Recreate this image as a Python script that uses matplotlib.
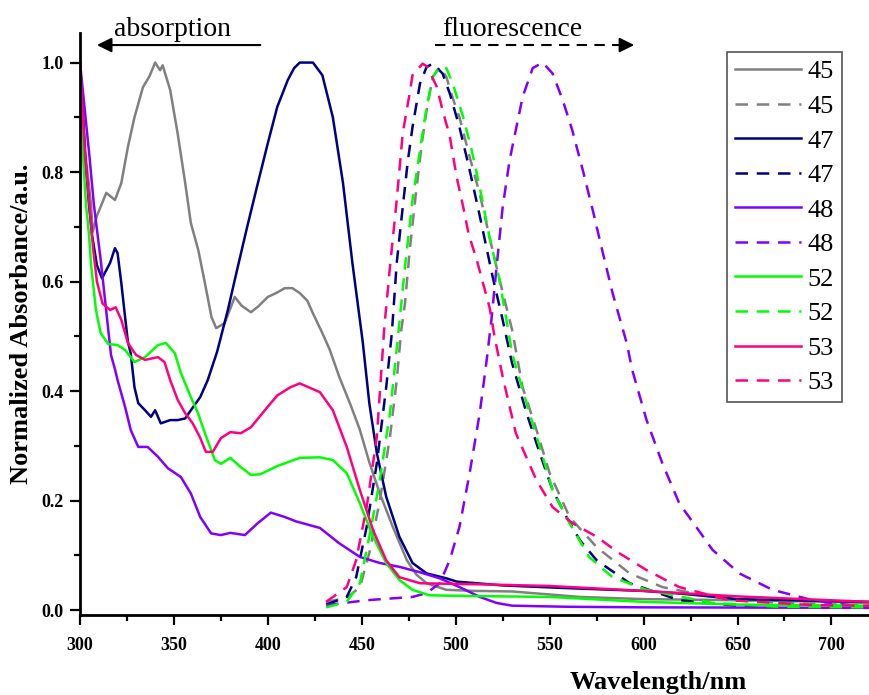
import numpy as np
import matplotlib
matplotlib.use("Agg")
import matplotlib.pyplot as plt
from matplotlib.ticker import MultipleLocator

plt.rcParams['font.family'] = ['Liberation Serif', 'DejaVu Serif']

# —— absorption (solid) —— #
gray_abs_x = [300, 303, 305.9, 306.7, 309, 314, 318.6, 322, 325.5, 329, 333.5, 337, 340, 342.6, 344, 348, 352, 356,
              359, 363, 366.5, 370, 372.5, 377, 382.4, 386, 391, 395, 400, 405, 409, 413, 417, 421, 424, 429, 433,
              438, 444, 449, 454, 459.6, 466.5, 474, 479, 484.5, 495, 510, 530, 566, 600, 650, 700, 720]
gray_abs_y = [1.0, 0.83, 0.74, 0.69, 0.72, 0.762, 0.749, 0.78, 0.846, 0.90, 0.955, 0.975, 1.0, 0.986, 0.995, 0.95,
              0.87, 0.78, 0.707, 0.657, 0.597, 0.535, 0.515, 0.524, 0.572, 0.556, 0.544, 0.555, 0.572, 0.58, 0.588,
              0.588, 0.579, 0.565, 0.542, 0.506, 0.475, 0.426, 0.375, 0.329, 0.27, 0.213, 0.152, 0.091, 0.065,
              0.049, 0.037, 0.035, 0.034, 0.024, 0.02, 0.018, 0.015, 0.013]

navy_abs_x = [300, 302.7, 304.8, 306.4, 309, 311.7, 316, 318.6, 320, 322, 324, 325.5, 327, 329, 331, 334.6, 337.8,
              340, 343, 348, 352, 356, 359, 364, 368, 373, 378.7, 384, 389, 394.7, 400, 405, 410.6, 414, 417, 424,
              429, 434.6, 440, 445, 450.5, 454, 458, 463, 470, 477, 484.5, 495, 500.5, 525, 560, 600, 620, 650, 720]
navy_abs_y = [1.0, 0.83, 0.74, 0.685, 0.63, 0.606, 0.634, 0.661, 0.652, 0.597, 0.535, 0.49, 0.469, 0.407, 0.378,
              0.365, 0.353, 0.365, 0.341, 0.347, 0.347, 0.35, 0.365, 0.389, 0.42, 0.472, 0.548, 0.627, 0.70, 0.78,
              0.853, 0.919, 0.968, 0.99, 1.0, 1.0, 0.977, 0.90, 0.78, 0.634, 0.49, 0.378, 0.287, 0.207, 0.134,
              0.086, 0.067, 0.058, 0.052, 0.045, 0.04, 0.035, 0.03, 0.02, 0.015]

violet_abs_x = [300, 305, 307.4, 311, 316.5, 318.6, 320, 324, 327, 331, 336, 341.5, 346.8, 353.7, 359, 364, 369.8,
                375, 380, 387.8, 394.7, 401.6, 409, 415, 427.7, 438, 449, 459.6, 470, 481, 491.5, 502, 512.8,
                521.8, 530, 560, 600, 720]
violet_abs_y = [1.0, 0.83, 0.74, 0.64, 0.466, 0.44, 0.42, 0.371, 0.329, 0.298, 0.298, 0.28, 0.259, 0.243, 0.213,
                0.17, 0.14, 0.137, 0.141, 0.137, 0.159, 0.178, 0.17, 0.162, 0.15, 0.122, 0.097, 0.086, 0.079, 0.069,
                0.058, 0.042, 0.024, 0.013, 0.008, 0.006, 0.005, 0.004]

green_abs_x = [300, 301.6, 303.2, 304.8, 306, 308.5, 311, 315, 320, 324, 329, 334.6, 341.5, 345.7, 350.5, 353.7, 359,
               362.8, 366.5, 371.8, 375, 380, 385.6, 391, 396, 405, 417, 427.7, 434.6, 442, 449, 456, 463, 470, 477,
               486, 500, 550, 600, 650, 720]
green_abs_y = [1.0, 0.83, 0.74, 0.685, 0.627, 0.548, 0.506, 0.486, 0.484, 0.475, 0.453, 0.462, 0.484, 0.488, 0.469,
               0.433, 0.389, 0.36, 0.323, 0.274, 0.267, 0.278, 0.261, 0.247, 0.248, 0.263, 0.278, 0.279, 0.274, 0.25,
               0.195, 0.134, 0.086, 0.055, 0.037, 0.027, 0.026, 0.024, 0.015, 0.01, 0.008]

pink_abs_x = [300, 302.7, 305, 307, 309, 312, 316, 319, 322, 325.5, 329.8, 334.6, 341.5, 345, 348, 352, 355.9, 360,
              363.8, 367, 370.7, 375, 380, 385.6, 391, 398.4, 405, 412, 417, 427.7, 434.6, 442, 449, 456, 463, 470,
              481, 513, 550, 600, 650, 720]
pink_abs_y = [1.0, 0.83, 0.74, 0.66, 0.6, 0.56, 0.548, 0.553, 0.53, 0.488, 0.466, 0.457, 0.462, 0.453, 0.42, 0.384,
              0.36, 0.341, 0.316, 0.289, 0.289, 0.314, 0.325, 0.323, 0.334, 0.365, 0.392, 0.407, 0.414, 0.398, 0.365,
              0.298, 0.219, 0.146, 0.091, 0.06, 0.049, 0.047, 0.044, 0.035, 0.025, 0.015]

# —— fluorescence (dashed) —— #
gray_fl_x = [431, 442, 449, 454, 459.6, 465, 468.6, 471, 473, 475.5, 479, 482, 484.5, 487.8, 491.5, 495, 498.4, 502,
             507.4, 512.8, 518, 523, 530, 535.6, 543, 550, 560.6, 575, 592.6, 610, 636.7, 672, 716, 720]
gray_fl_y = [0.015, 0.022, 0.042, 0.104, 0.2, 0.316, 0.42, 0.511, 0.56, 0.657, 0.767, 0.853, 0.913, 0.974, 0.992,
             0.974, 0.935, 0.90, 0.828, 0.76, 0.681, 0.608, 0.512, 0.407, 0.329, 0.25, 0.17, 0.115, 0.067, 0.042,
             0.024, 0.013, 0.009, 0.009]

navy_fl_x = [431, 442, 447, 452.6, 458, 463, 466, 468.6, 471.8, 474.5, 477, 481, 484.5, 487.8, 493, 496.8, 502, 507,
             512.8, 519.7, 525, 530, 537.7, 544.7, 551.6, 559, 566, 575, 592.6, 619, 655, 720]
navy_fl_y = [0.01, 0.024, 0.06, 0.152, 0.268, 0.407, 0.506, 0.634, 0.736, 0.82, 0.882, 0.962, 0.992, 0.998, 0.98,
             0.944, 0.882, 0.81, 0.72, 0.608, 0.53, 0.451, 0.36, 0.287, 0.219, 0.17, 0.128, 0.091, 0.049, 0.018,
             0.006, 0.005]

violet_fl_x = [431, 452.6, 477, 484.5, 491.5, 496.8, 502, 507.4, 512.8, 516.5, 519, 521.7, 525, 528.7, 532, 535.6,
               541, 546.3, 551.6, 557, 562, 567.6, 572.9, 578, 583.5, 591, 594, 601.6, 610, 619, 628, 636.7, 651,
               668.6, 690, 716, 720]
violet_fl_y = [0.009, 0.018, 0.024, 0.031, 0.049, 0.091, 0.152, 0.25, 0.36, 0.457, 0.53, 0.625, 0.736, 0.822, 0.877,
               0.937, 0.99, 1.0, 0.98, 0.931, 0.877, 0.804, 0.731, 0.657, 0.579, 0.488, 0.438, 0.347, 0.268, 0.195,
               0.152, 0.11, 0.067, 0.037, 0.018, 0.006, 0.006]

green_fl_x = [431, 442, 449, 454, 459.6, 465, 469, 473, 477, 481, 484.5, 487.8, 491.5, 495, 498.4, 504, 508.5, 512.8,
              518, 523, 527, 530, 537.7, 544.7, 551.6, 560.6, 571, 583.5, 601.6, 636.7, 672, 720]
green_fl_y = [0.005, 0.015, 0.049, 0.134, 0.237, 0.36, 0.49, 0.627, 0.749, 0.84, 0.919, 0.974, 0.992, 0.99, 0.962,
              0.90, 0.84, 0.772, 0.681, 0.608, 0.53, 0.469, 0.378, 0.298, 0.219, 0.159, 0.097, 0.06, 0.037, 0.013,
              0.006, 0.005]

pink_fl_x = [431, 442, 447, 452.6, 458, 462, 465, 468.6, 471.8, 475.5, 477, 482.4, 485, 490, 493, 496.8, 500.5, 504,
             507, 511, 518, 520.7, 525, 532, 543, 551.6, 562, 575, 587, 601.6, 619, 645.7, 690, 720]
pink_fl_y = [0.015, 0.042, 0.091, 0.188, 0.316, 0.517, 0.627, 0.749, 0.871, 0.944, 0.977, 0.998, 0.992, 0.955, 0.913,
             0.866, 0.791, 0.736, 0.685, 0.642, 0.553, 0.499, 0.426, 0.323, 0.237, 0.188, 0.159, 0.134, 0.104, 0.073,
             0.042, 0.018, 0.009, 0.008]

labels = ["45", "47", "48", "52", "53"]
colors = ["#808080", "#000080", "#8000FF", "#00FF00", "#FF0080"]
abs_data = [(gray_abs_x, gray_abs_y), (navy_abs_x, navy_abs_y), (violet_abs_x, violet_abs_y),
            (green_abs_x, green_abs_y), (pink_abs_x, pink_abs_y)]
fl_data = [(gray_fl_x, gray_fl_y), (navy_fl_x, navy_fl_y), (violet_fl_x, violet_fl_y),
           (green_fl_x, green_fl_y), (pink_fl_x, pink_fl_y)]

W, H = 869, 695
fig = plt.figure(figsize=(W / 100, H / 100), dpi=100)
ax = fig.add_axes([80 / W, 80 / H, (W - 80) / W, (615 - 33) / H])

lw = 1.8
for lab, c, (ax_x, ax_y), (fx, fy) in zip(labels, colors, abs_data, fl_data):
    ax.plot(ax_x, ax_y, color=c, lw=lw, label=lab)
    ax.plot(fx, fy, color=c, lw=lw, ls=(0, (5, 3.5)), label=lab)

ax.set_xlim(300, 720)
ax.set_ylim(-0.009, 1.054)
ax.xaxis.set_major_locator(MultipleLocator(50))
ax.xaxis.set_minor_locator(MultipleLocator(25))
ax.yaxis.set_major_locator(MultipleLocator(0.2))
ax.yaxis.set_minor_locator(MultipleLocator(0.1))
ax.yaxis.set_major_formatter(plt.FuncFormatter(lambda v, p: f"{v:.1f}"))

for s in ["top", "right"]:
    ax.spines[s].set_visible(False)
for s in ["left", "bottom"]:
    ax.spines[s].set_linewidth(2.0)
ax.tick_params(which="major", direction="out", length=7, width=1.6, labelsize=13, pad=5)
ax.tick_params(which="minor", direction="out", length=4, width=1.6)
ax.tick_params(axis="x", which="major", pad=9)
for t in ax.get_xticklabels() + ax.get_yticklabels():
    t.set_fontweight("bold")

ax.set_xlabel("Wavelength/nm", fontsize=19, fontweight="bold", va="center")
ax.xaxis.set_label_coords((658 - 80) / (W - 80), (615 - 682) / (615 - 33))
ax.set_ylabel("Normalized Absorbance/a.u.", fontsize=19, fontweight="bold", va="center")
ax.yaxis.set_label_coords((22 - 80) / (W - 80), 0.5)

# annotations
ax.annotate("", xy=(309, 1.032), xytext=(396, 1.032), annotation_clip=False,
            arrowprops=dict(arrowstyle="-|>", color="k", lw=1.5, mutation_scale=22, shrinkA=0, shrinkB=0))
ax.text(349.5, 1.06, "absorption", fontsize=20, ha="center", va="center", clip_on=False)
ax.plot([489, 590], [1.032, 1.032], color="k", lw=1.5, ls=(0, (5, 3.5)), clip_on=False)
ax.annotate("", xy=(595, 1.032), xytext=(587, 1.032), annotation_clip=False,
            arrowprops=dict(arrowstyle="-|>", color="k", lw=1.5, mutation_scale=22, shrinkA=0, shrinkB=0))
ax.text(530, 1.06, "fluorescence", fontsize=20, ha="center", va="center", clip_on=False)

leg = ax.legend(loc="upper right", bbox_to_anchor=(842 / W, 1 - 52 / H), bbox_transform=fig.transFigure,
                fontsize=19, frameon=True, fancybox=False, framealpha=1, edgecolor="#555555",
                handlelength=2.5, handletextpad=0.25, labelspacing=0.42, borderpad=0.3, borderaxespad=0)
leg.get_frame().set_linewidth(1.2)

fig.savefig("out.png", dpi=100)
